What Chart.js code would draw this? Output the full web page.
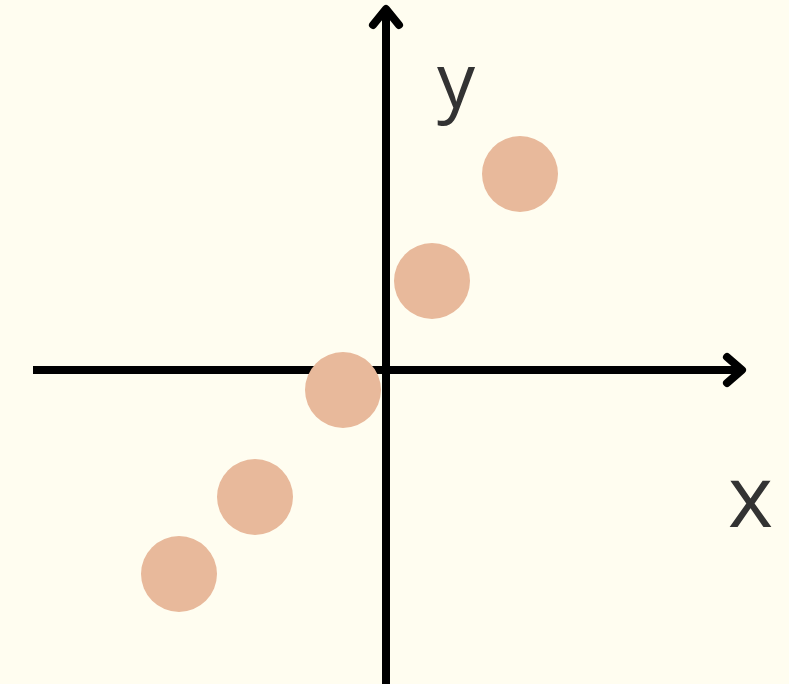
<!DOCTYPE html>
<html>
<head>
<meta charset="utf-8">
<script src="https://cdn.jsdelivr.net/npm/chart.js@4"></script>
<style>
  body { margin: 0; background: #fffdf0; }
  canvas { display: block; }
</style>
</head>
<body>
<canvas id="myChart" width="789" height="684"></canvas>
<script>
// data points (1 unit = 100px, origin where the axes cross)
const xValues = [1.34, 0.46, -0.43, -1.31, -2.07];
const yValues = [1.96, 0.89, -0.20, -1.27, -2.04];
const axisNames = ['x', 'y'];

const points = xValues.map((x, i) => ({ x: x, y: yValues[i] }));

const axesPlugin = {
    id: 'axesPlugin',
    beforeDraw(chart) {
        const c = chart.ctx;
        c.save();
        c.fillStyle = '#fffdf0';
        c.fillRect(0, 0, chart.width, chart.height);
        c.restore();
    },
    beforeDatasetsDraw(chart) {
        const c = chart.ctx;
        const xs = chart.scales.x;
        const ys = chart.scales.y;
        const ox = xs.getPixelForValue(0);
        const oy = ys.getPixelForValue(0);
        const left = xs.getPixelForValue(-3.53);
        const right = xs.getPixelForValue(3.56);
        const top = ys.getPixelForValue(3.61);
        const bottom = chart.height;

        c.save();
        c.strokeStyle = '#000';
        c.lineWidth = 8;
        // x axis
        c.lineCap = 'butt';
        c.beginPath();
        c.moveTo(left, oy);
        c.lineTo(right, oy);
        c.stroke();
        // y axis
        c.beginPath();
        c.moveTo(ox, bottom);
        c.lineTo(ox, top);
        c.stroke();
        // arrow heads
        c.lineCap = 'round';
        c.lineJoin = 'round';
        c.beginPath();
        c.moveTo(right - 15, oy - 13);
        c.lineTo(right, oy);
        c.lineTo(right - 15, oy + 13);
        c.stroke();
        c.beginPath();
        c.moveTo(ox - 13, top + 16);
        c.lineTo(ox, top);
        c.lineTo(ox + 13, top + 16);
        c.stroke();

        // axis names
        c.fillStyle = '#333333';
        c.textAlign = 'left';
        c.textBaseline = 'alphabetic';
        c.font = '86px "Open Sans"';
        c.fillText(axisNames[0], xs.getPixelForValue(3.42), ys.getPixelForValue(-1.57));
        c.font = '76px "Open Sans"';
        c.fillText(axisNames[1], xs.getPixelForValue(0.51), ys.getPixelForValue(2.62));
        c.restore();
    }
};

const ctx = document.getElementById('myChart');

new Chart(ctx, {
    type: 'scatter',
    data: {
        datasets: [{
            data: points,
            pointRadius: 38,
            pointHoverRadius: 38,
            backgroundColor: '#e8b99b',
            borderWidth: 0
        }]
    },
    options: {
        responsive: false,
        animation: false,
        layout: { padding: 0, autoPadding: false },
        plugins: {
            legend: { display: false },
            tooltip: { enabled: false }
        },
        scales: {
            x: { type: 'linear', min: -3.86, max: 4.03, display: false },
            y: { type: 'linear', min: -3.14, max: 3.70, display: false }
        }
    },
    plugins: [axesPlugin]
});
</script>
</body>
</html>
